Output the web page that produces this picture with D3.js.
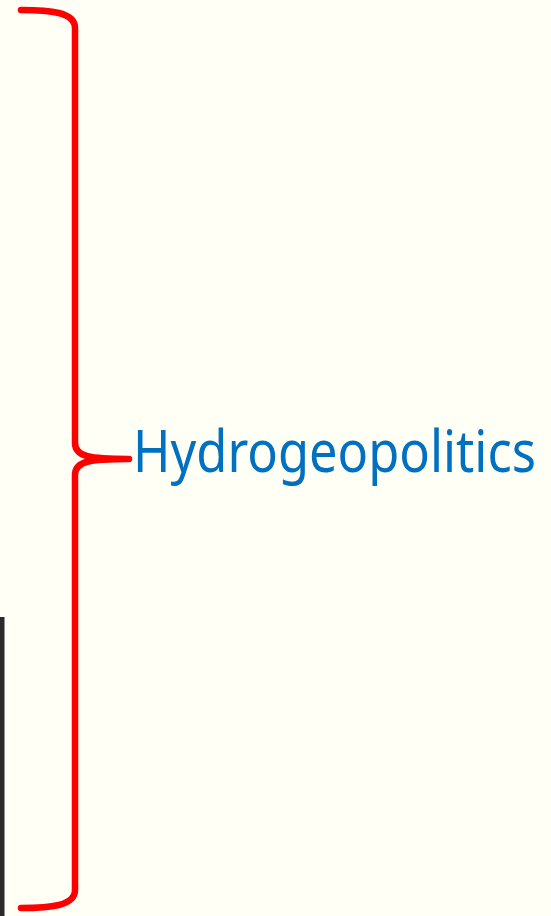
<!DOCTYPE html>
<html>
<head>
<meta charset="utf-8">
<script src="https://cdn.jsdelivr.net/npm/d3@7"></script>
<style>
  html, body { margin: 0; padding: 0; background: #fffff5; }
  svg { display: block; }
</style>
</head>
<body>
<svg id="chart" width="551" height="916"></svg>
<script>
'use strict';

// brace spans the whole group, tip sits at its middle
var labels = ["Hydrogeopolitics"];
var braceSpan = [0, 1];
var tipAt = [0.5];

var width = 551, height = 916;
var svg = d3.select("#chart");

svg.append("rect")
   .attr("width", width).attr("height", height)
   .attr("fill", "#fffff5");

// dark edge at bottom left
svg.append("rect")
   .attr("x", 0).attr("y", 617)
   .attr("width", 4.5).attr("height", height - 617)
   .attr("fill", "#2b2b2b");

var y = d3.scaleLinear().domain(braceSpan).range([10, 908]);

var xEnd = 21, xSpine = 75, xTip = 129;

function bracePath(y0, y1, ym) {
   var p = d3.path();
   p.moveTo(xEnd, y0);
   p.bezierCurveTo(50, y0, xSpine, y0 + 2, xSpine, y0 + 18);
   p.lineTo(xSpine, ym - 16);
   p.bezierCurveTo(xSpine, ym - 2, 90, ym, xTip, ym);
   p.bezierCurveTo(90, ym, xSpine, ym + 2, xSpine, ym + 16);
   p.lineTo(xSpine, y1 - 18);
   p.bezierCurveTo(xSpine, y1 - 2, 50, y1, xEnd, y1);
   return p.toString();
}

svg.append("path")
   .attr("d", bracePath(y(braceSpan[0]), y(braceSpan[1]), y(tipAt[0])))
   .attr("fill", "none")
   .attr("stroke", "#ff0000")
   .attr("stroke-width", 6.5)
   .attr("stroke-linecap", "round")
   .attr("stroke-linejoin", "round");

var txt = svg.selectAll("text.lab")
   .data(labels)
   .enter().append("text")
   .attr("class", "lab")
   .attr("font-family", "'Noto Sans', sans-serif")
   .attr("font-size", 58)
   .attr("fill", "#0070c0")
   .text(function(d) { return d; });

// squeeze label a little so it fits right of the brace
txt.each(function() {
   var w = this.getComputedTextLength();
   var sx = Math.min(1, 403 / w);
   d3.select(this).attr("transform",
      "translate(133," + (y(tipAt[0]) + 13) + ") scale(" + sx + ",1)");
});
</script>
</body>
</html>
